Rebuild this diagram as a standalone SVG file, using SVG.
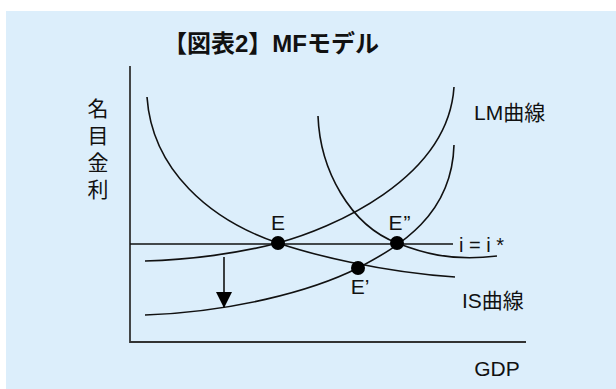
<svg xmlns="http://www.w3.org/2000/svg" width="616" height="389" viewBox="0 0 616 389">
<style>
.t{font-family:"Liberation Sans","Noto Sans CJK JP",sans-serif;fill:#111;}
.c{fill:none;stroke:#111;stroke-width:1.6;}
.ax{fill:none;stroke:#333;stroke-width:1.8;}
.dot{fill:#000;}
</style>
<defs>
<marker id="ah" markerWidth="16" markerHeight="16" refX="15" refY="8" orient="auto" markerUnits="userSpaceOnUse" viewBox="0 0 16 16">
<path d="M0,0 L16,8 L0,16 Z" fill="#000"/>
</marker>
</defs>
<rect x="0" y="0" width="616" height="389" fill="#ffffff"/>
<rect x="6" y="11" width="610" height="378" fill="#DCEEFB"/>
<text id="title" class="t" x="271" y="52" font-size="24" font-weight="bold" text-anchor="middle">【図表2】MFモデル</text>
<g id="axes">
<path class="ax" d="M130,66 L130,342 L526,342"/>
<text class="t" font-size="21" text-anchor="middle"><tspan x="98" y="116">名</tspan><tspan x="98" y="143">目</tspan><tspan x="98" y="170">金</tspan><tspan x="98" y="197">利</tspan></text>
<text class="t" x="497" y="376" font-size="21" text-anchor="middle">GDP</text>
</g>
<g id="connectors">
<path id="istar" class="c" d="M130,244 L453,244"/>
<path id="is1" class="c" d="M147,97 C152,170 210,220 278,243 C310,254 380,272 455,277"/>
<path id="is2" class="c" d="M318,116 C320,170 350,225 397,243 C420,252 450,262 497,256"/>
<path id="lm1" class="c" d="M145,261 C190,260 240,253 278,243 C330,229 448,180 454,87"/>
<path id="lm2" class="c" d="M145,315 C230,312 310,292 358,268 C400,246 452,215 454,145"/>
<path id="shift" class="c" d="M224,257 L224,307" marker-end="url(#ah)"/>
</g>
<g id="E">
<circle class="dot" cx="278" cy="243" r="7"/>
<text class="t" x="278" y="230" font-size="21" text-anchor="middle">E</text>
</g>
<g id="E2">
<circle class="dot" cx="397" cy="243" r="7"/>
<text class="t" x="400" y="230" font-size="21" text-anchor="middle" letter-spacing="1">E”</text>
</g>
<g id="E1">
<circle class="dot" cx="358" cy="268" r="7"/>
<text class="t" x="360" y="294" font-size="21" text-anchor="middle">E’</text>
</g>
<g id="labels">
<text class="t" x="459" y="252" font-size="20">i = i *</text>
<text class="t" x="474" y="120" font-size="21">LM曲線</text>
<text class="t" x="462" y="308" font-size="21">IS曲線</text>
</g>
</svg>
